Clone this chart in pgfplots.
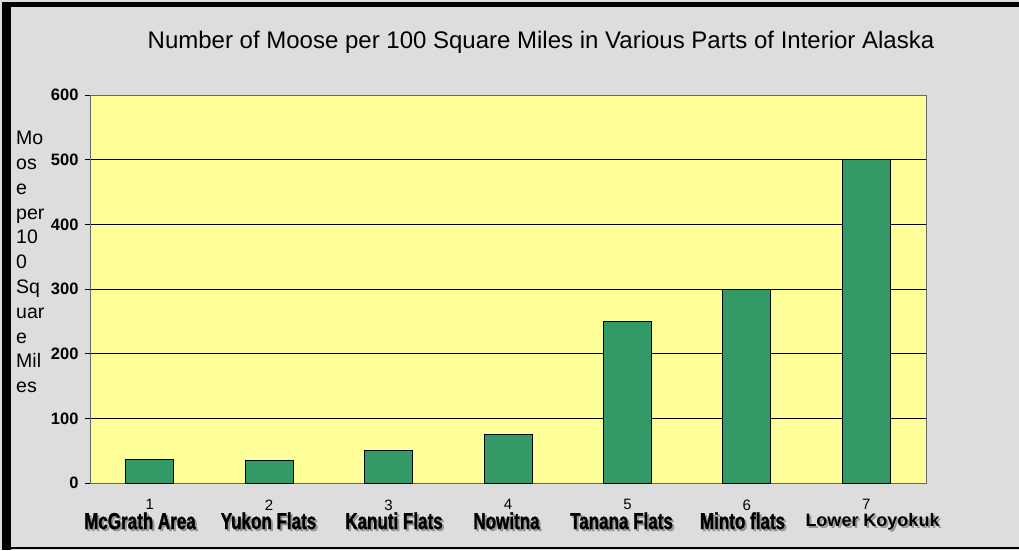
\documentclass[border=0pt]{standalone}
\usepackage{pgfplots}
\pgfplotsset{compat=1.18}
\usepackage{fontspec}
\setmainfont{Liberation Sans}
\newfontfamily\narrowbold[FakeStretch=0.74,FakeBold=1.2]{Liberation Sans Bold}
\definecolor{bggray}{RGB}{221,221,221}
\definecolor{plotyellow}{RGB}{255,255,153}
\definecolor{bargreen}{RGB}{51,153,102}
\definecolor{shadowgray}{RGB}{150,150,150}
\begin{document}
\begin{tikzpicture}
\useasboundingbox (0pt,0pt) rectangle (1019pt,550pt);
\fill[bggray] (0pt,0pt) rectangle (1019pt,550pt);
\fill[black] (2pt,0pt) rectangle (11pt,547pt);
\fill[black] (2pt,543pt) rectangle (1019pt,548pt);
\fill[black] (2pt,1pt) rectangle (1019pt,3pt);
\begin{axis}[
  at={(90pt,67pt)}, anchor=south west,
  scale only axis, width=836pt, height=388pt,
  xmin=0.5, xmax=7.5, ymin=0, ymax=600,
  axis background/.style={fill=plotyellow},
  axis line style={draw=gray!80!black, line width=1pt},
  ybar, bar width=48pt,
  ytick={0,100,...,600},
  ymajorgrids, grid style={black, line width=0.8pt},
  tick align=outside, major tick length=5pt,
  xtick pos=bottom, ytick pos=left,
  tick style={black, line width=0.8pt},
  xtick={1,...,7},
  xticklabels={1,2,3,4,5,6,7},
  xtick style={draw=none},
  extra x ticks={0.5,1.5,...,7.5},
  extra x tick labels={},
  extra x tick style={grid=none, tick style={draw=black}},
  /pgf/number format/assume math mode=true,
  yticklabel style={font=\bfseries\fontsize{16.5}{16.5}\selectfont, xshift=-3pt},
  xticklabel style={font=\fontsize{15}{15}\selectfont, yshift=-8pt},
]
\addplot[fill=bargreen, draw=black, line width=0.8pt] coordinates {
 (1,36) (2,35) (3,50) (4,75) (5,250) (6,300) (7,500)
};
\end{axis}
\node[font=\fontsize{24}{24}\selectfont, anchor=base] at (541pt,501pt) {Number of Moose per 100 Square Miles in Various Parts of Interior Alaska};
\node[font=\fontsize{19.5}{24.8}\selectfont, align=left, anchor=north west, inner sep=0pt] at (16pt,419pt) {Mo\\os\\e\\per\\10\\0\\Sq\\uar\\e\\Mil\\es};
\foreach \x/\t in {140/McGrath Area,268.5/Yukon Flats,394/Kanuti Flats,506.5/Nowitna,621.5/Tanana Flats,742.5/Minto flats} {
  \node[font=\narrowbold\fontsize{23}{23}\selectfont, anchor=base, text=shadowgray] at (\x pt+2pt,19pt) {\t};
  \node[font=\narrowbold\fontsize{23}{23}\selectfont, anchor=base] at (\x pt,21pt) {\t};
}
\node[font=\bfseries\fontsize{18}{18}\selectfont, anchor=base, text=shadowgray] at (874.5pt,22pt) {Lower Koyokuk};
\node[font=\bfseries\fontsize{18}{18}\selectfont, anchor=base] at (872.5pt,24pt) {Lower Koyokuk};
\end{tikzpicture}
\end{document}
